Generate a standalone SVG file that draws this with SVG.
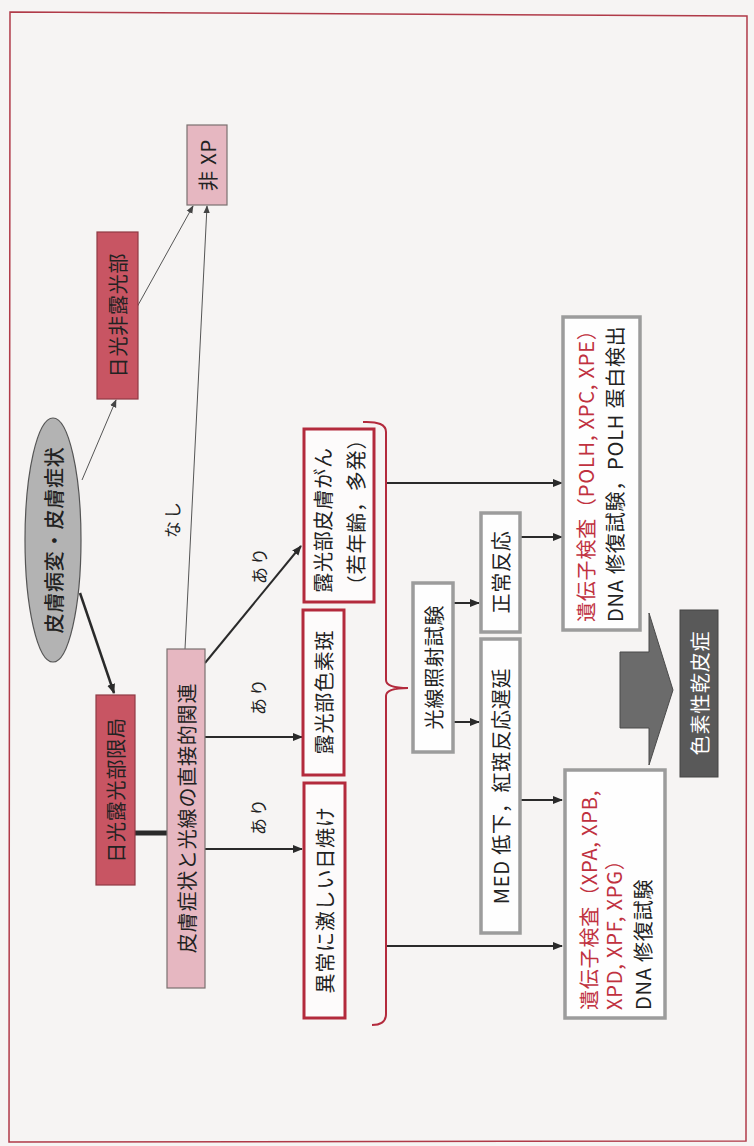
<svg xmlns="http://www.w3.org/2000/svg" width="754" height="1146" viewBox="0 0 754 1146">
<style>
.t{font-family:"Noto Sans CJK JP","Noto Sans",sans-serif;font-size:20px;fill:#222;text-anchor:middle;dominant-baseline:central;letter-spacing:0.8px}
.ts{text-anchor:start}
.red{fill:#c0313f}
.wh{fill:#fff}
.lb{font-size:17px;letter-spacing:2px}
.dk{fill:#c85563;stroke:#8f3a45;stroke-width:1.2}
.lt{fill:#e6b7c1;stroke:#7a7070;stroke-width:1.2}
.rb{fill:#fdfbfb;stroke:#b32a3c;stroke-width:3}
.gb{fill:#fefefe;stroke:#9c9c9c;stroke-width:3.5}
.c{stroke:#2a2a2a;fill:none}
.thin{stroke-width:1;stroke:#555}
.med{stroke-width:2}
</style>
<defs>
<marker id="ahs" viewBox="0 0 10 10" refX="9" refY="5" markerWidth="8" markerHeight="8" markerUnits="userSpaceOnUse" orient="auto">
<path d="M0,1 L10,5 L0,9 z" fill="#444"/>
</marker>
<marker id="ahb" viewBox="0 0 10 10" refX="9" refY="5" markerWidth="10" markerHeight="10" markerUnits="userSpaceOnUse" orient="auto">
<path d="M0,1 L10,5 L0,9 z" fill="#2a2a2a"/>
</marker>
</defs>
<rect width="754" height="1146" fill="#f6f4f3"/>
<polygon points="10,12 747,16 746,1141 9,1142" fill="none" stroke="#b03a48" stroke-width="1.5"/>

<g id="connectors">
<line class="c thin" x1="82" y1="480" x2="116" y2="400" marker-end="url(#ahs)"/>
<line class="c" stroke-width="2.5" x1="80" y1="593" x2="114" y2="693" marker-end="url(#ahb)"/>
<line class="c thin" x1="137" y1="307" x2="193" y2="206" marker-end="url(#ahs)"/>
<line class="c thin" x1="185" y1="649" x2="207" y2="206" marker-end="url(#ahs)"/>
<line class="c" stroke-width="5" x1="135" y1="833" x2="167" y2="833"/>
<line class="c med" x1="205" y1="663" x2="301" y2="546" marker-end="url(#ahb)"/>
<line class="c med" x1="205" y1="737" x2="302" y2="737" marker-end="url(#ahb)"/>
<line class="c med" x1="205" y1="849" x2="302" y2="849" marker-end="url(#ahb)"/>
<line class="c med" x1="387" y1="483" x2="562" y2="483" marker-end="url(#ahb)"/>
<line class="c med" x1="387" y1="946" x2="562" y2="946" marker-end="url(#ahb)"/>
<line class="c med" x1="453" y1="603" x2="479" y2="603" marker-end="url(#ahb)"/>
<line class="c med" x1="453" y1="722" x2="479" y2="722" marker-end="url(#ahb)"/>
<line class="c med" x1="520" y1="537" x2="562" y2="537" marker-end="url(#ahb)"/>
<line class="c med" x1="520" y1="800" x2="562" y2="800" marker-end="url(#ahb)"/>
<path d="M363,422 Q386,421 386,432 L386,680 Q386,688 408,688 Q386,688 386,696 L386,1014 Q386,1025 372,1025" fill="none" stroke="#b32a3c" stroke-width="2"/>
<text class="t lb" transform="translate(171,519) rotate(-90)">なし</text>
<text class="t lb" transform="translate(258,565) rotate(-90)">あり</text>
<text class="t lb" transform="translate(257,696) rotate(-90)">あり</text>
<text class="t lb" transform="translate(257,816) rotate(-90)">あり</text>
</g>

<g id="n_symptom">
<ellipse cx="53" cy="540" rx="28" ry="122" fill="#b3b3b3" stroke="#555" stroke-width="1.2"/>
<text class="t" font-weight="500" transform="translate(53,540) rotate(-90)">皮膚病変・皮膚症状</text>
</g>
<g id="n_exposed">
<rect class="dk" x="96" y="695" width="39" height="190"/>
<text class="t" transform="translate(115.5,790) rotate(-90)">日光露光部限局</text>
</g>
<g id="n_unexposed">
<rect class="dk" x="97" y="232" width="41" height="167"/>
<text class="t" transform="translate(117.5,315) rotate(-90)">日光非露光部</text>
</g>
<g id="n_nonxp">
<rect class="lt" x="187" y="125" width="40" height="80"/>
<text class="t" transform="translate(207,165) rotate(-90)">非 XP</text>
</g>
<g id="n_relation">
<rect class="lt" x="167" y="649" width="38" height="339"/>
<text class="t" transform="translate(186,818) rotate(-90)">皮膚症状と光線の直接的関連</text>
</g>
<g id="n_sunburn">
<rect class="rb" x="304" y="783" width="41" height="235"/>
<text class="t" letter-spacing="2.5" transform="translate(324.5,900) rotate(-90)">異常に激しい日焼け</text>
</g>
<g id="n_pigment">
<rect class="rb" x="303" y="610" width="41" height="165"/>
<text class="t" transform="translate(323.5,692) rotate(-90)">露光部色素斑</text>
</g>
<g id="n_cancer">
<rect class="rb" x="304" y="429" width="70" height="173"/>
<text class="t" transform="translate(322,520) rotate(-90)">露光部皮膚がん</text>
<text class="t" transform="translate(355,512) rotate(-90)">（若年齢，多発）</text>
</g>
<g id="n_phototest">
<rect class="gb" x="413" y="583" width="40" height="169"/>
<text class="t" transform="translate(433,667) rotate(-90)">光線照射試験</text>
</g>
<g id="n_normal">
<rect class="gb" x="481" y="513" width="39" height="119"/>
<text class="t" transform="translate(500.5,572) rotate(-90)">正常反応</text>
</g>
<g id="n_med">
<rect class="gb" x="481" y="639" width="39" height="294"/>
<text class="t" transform="translate(500.5,786) rotate(-90)">MED 低下，紅斑反応遅延</text>
</g>
<g id="n_gene1">
<rect class="gb" x="563" y="317" width="77" height="313"/>
<text class="t ts red" transform="translate(585,622) rotate(-90)">遺伝子検査（POLH, XPC, XPE）</text>
<text class="t ts" transform="translate(614,622) rotate(-90)">DNA 修復試験，POLH 蛋白検出</text>
</g>
<g id="n_gene2">
<rect class="gb" x="565" y="770" width="100" height="248"/>
<text class="t ts red" transform="translate(588,1010) rotate(-90)">遺伝子検査（XPA, XPB,</text>
<text class="t ts red" transform="translate(613,1010) rotate(-90)">XPD, XPF, XPG）</text>
<text class="t ts" transform="translate(642,1010) rotate(-90)">DNA 修復試験</text>
</g>
<g id="n_bigarrow">
<polygon points="620,652 649,652 649,613 673,690 649,765 649,728 620,728" fill="#6b6b6b" stroke="#4a4a4a" stroke-width="1"/>
</g>
<g id="n_xp">
<rect x="680" y="610" width="38" height="167" fill="#595959" stroke="#444" stroke-width="1"/>
<text class="t wh" transform="translate(699,693) rotate(-90)">色素性乾皮症</text>
</g>
</svg>
